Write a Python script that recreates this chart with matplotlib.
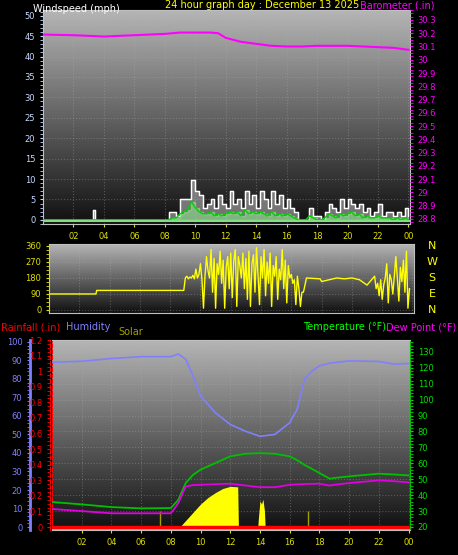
import numpy as np
import matplotlib.pyplot as plt
from matplotlib.ticker import MultipleLocator

# ---- data ----
hours = [0, 2, 4, 6, 8, 8.5, 9, 9.5, 10, 11, 12, 13, 14, 15, 16, 16.5, 17, 17.5, 18, 18.7, 19, 20, 22, 23, 24]
humidity = [89, 89.5, 91, 92, 92, 93.4, 90.6, 81.6, 70.8, 61.7, 55.4, 51.8, 49, 50, 56.3, 63.5, 79.8, 84.3, 87, 88.5, 88.8, 89.7, 89.4, 88, 88.3]
temperature = [35.7, 34.2, 32.5, 31.7, 31.9, 37, 47.6, 52.8, 56, 60.2, 64.4, 66, 66.4, 66, 64.4, 62, 59, 56.5, 53.9, 50.3, 50.8, 51.8, 53.5, 53, 52.4]
dewpoint = [31.3, 30, 28.6, 28.6, 28.6, 35, 45.5, 46.3, 46.5, 46.9, 47.2, 46.1, 45, 45, 46.5, 46.8, 47, 47.1, 47.2, 46, 46.5, 47.6, 49.3, 48.8, 48]

baro_hours = [0, 2, 4, 6, 8, 9, 10, 11, 11.5, 12, 13, 14, 15, 16, 17, 18, 20, 22, 23, 24]
barometer = [30.19, 30.185, 30.175, 30.185, 30.195, 30.205, 30.205, 30.205, 30.2, 30.165, 30.135, 30.12, 30.105, 30.1, 30.1, 30.105, 30.105, 30.095, 30.09, 30.075]

solar_hours = [0, 8.6, 9, 9.5, 10, 10.5, 11, 11.5, 12, 12.5, 12.55, 13.85, 13.9, 14.0, 14.1, 14.2, 14.3, 14.35, 24]
solar = [0, 0, 40, 90, 140, 180, 210, 235, 248, 245, 0, 0, 60, 160, 140, 170, 100, 0, 0]
solar_blips = [7.3, 17.2]

wind_hours = [0, 3.2, 3.3, 3.4] + list(np.arange(8.0, 24.0, 0.25)) + [24]
gust = [0, 0, 2.5, 0,
        0, 2, 2, 1, 5, 5, 5, 9.8, 7, 6, 3, 4, 5, 3, 6, 4,
        3, 7, 4, 5, 3, 7, 4, 6, 3, 7, 5, 3, 7, 4, 6, 3,
        5, 3, 2, 0, 0, 0, 3, 1, 1, 0, 2, 4, 3, 2, 5, 3,
        5, 4, 3, 4, 2, 3, 1, 2, 4, 1, 2, 2, 1, 2, 1, 3, 1]
avg = [0, 0, 0, 0,
       0, 0, 0.5, 0.5, 1.5, 2, 2.5, 4.5, 3, 2, 1.5, 1.5, 2, 1, 1.5, 1,
       1.5, 2, 1.5, 2, 1, 2.5, 1.5, 2, 1.5, 2, 1.5, 1, 2, 1, 1.5, 1,
       1.5, 1, 0.5, 0, 0, 0, 1, 0.5, 0, 0, 0.5, 1.5, 1, 0.5, 1.5, 1,
       1.5, 2, 1, 1.5, 0.5, 1, 0.5, 0.5, 1, 0.5, 0.5, 0.5, 0, 0.5, 0, 0.5, 0]

dir_hours = [0, 3.1, 3.15, 8.9, 9.0] + list(np.arange(9.1, 16.9, 0.1)) + [17.0, 17.9, 18.0, 19, 19.5, 20, 20.5, 21, 21.5] + list(np.arange(21.6, 24.0, 0.1))
direction = [90, 90, 110, 110, 180,
             190, 175, 185, 180, 195, 175, 230, 180, 200, 260, 170, 10, 190, 300, 220,
             180, 340, 100, 290, 10, 260, 200, 330, 150, 280, 10, 240, 300, 120, 320,
             70, 280, 340, 20, 300, 250, 180, 320, 120, 290, 60, 330, 20, 260, 310,
             100, 350, 200, 30, 300, 180, 340, 80, 270, 150, 320, 20, 250, 190, 300,
             60, 230, 170, 340, 120, 280, 40, 250, 180, 200, 150, 170, 30, 190, 120,
             20,
             100, 100, 180, 175, 160, 180, 175, 180, 170,
             140, 190, 120, 150, 80, 170, 60, 140, 180, 260, 40, 200, 170, 90, 190,
             300, 180, 50, 240, 160, 280, 100, 330, 10, 120]

BG = "black"


def gradient(ax):
    g = np.linspace(1, 0, 256).reshape(-1, 1)
    ax.imshow(g, aspect="auto", cmap="gray", vmin=-0.1, vmax=1.45,
              extent=(0, 1, 0, 1), transform=ax.transAxes, zorder=0)


def xaxis(ax):
    ax.set_xlim(0, 24.1)
    ax.set_xticks(range(2, 25, 2))
    ax.set_xticklabels([f"{h % 24:02d}" for h in range(2, 25, 2)])
    ax.xaxis.set_minor_locator(MultipleLocator(1))
    ax.tick_params(axis="x", colors="#e0e000", labelsize=6, length=2)
    ax.grid(True, color="#b0b0b0", alpha=0.35, linestyle=":", linewidth=0.8)
    for s in ax.spines.values():
        s.set_color("#c0c0c0")


fig = plt.figure(figsize=(4.58, 5.55), dpi=100, facecolor=BG)

# ---- wind / barometer ----
ax1 = fig.add_axes([43 / 458, 1 - 224 / 555, 367 / 458, 214 / 555])
gradient(ax1)
xaxis(ax1)
ax1.set_ylim(-1, 51.4)
ax1.set_yticks(range(0, 51, 5))
ax1.yaxis.set_minor_locator(MultipleLocator(1))
ax1.tick_params(axis="y", colors="#c8d8ff", labelsize=6, length=2, which="both")
ax1.fill_between(wind_hours, gust, step="post", color="#d0d0d0", alpha=0.5, zorder=2)
ax1.step(wind_hours, gust, where="post", color="white", lw=1, zorder=3)
ax1.fill_between(wind_hours, avg, step="post", color="#90e090", alpha=0.6, zorder=3)
ax1.plot(wind_hours, avg, color="#00d000", lw=1, zorder=4)
ax1.axhline(-0.3, color="#80e080", lw=1.5, zorder=4)
axb = ax1.twinx()
axb.set_xlim(0, 24.1)
axb.set_ylim(28.762, 30.375)
baro_ticks = np.round(np.arange(28.8, 30.31, 0.1), 1)
axb.set_yticks(baro_ticks)
axb.set_yticklabels([f"{v:g}" for v in baro_ticks])
axb.yaxis.set_minor_locator(MultipleLocator(0.025))
axb.tick_params(axis="y", colors="#ff00ff", labelsize=6, length=2, which="both")
axb.plot(baro_hours, barometer, color="#ff00ff", lw=1.5)
for s in axb.spines.values():
    s.set_visible(False)

fig.text(33 / 458, 1 - 9 / 555, "Windspeed (mph)", color="white", fontsize=7, va="center")
fig.text(262 / 458, 1 - 5 / 555, "24 hour graph day : December 13 2025", color="#ffff00",
         fontsize=7, ha="center", va="center")
fig.text(434 / 458, 1 - 5 / 555, "Barometer (.in)", color="#ff00ff", fontsize=7, ha="right", va="center")

# ---- wind direction ----
ax2 = fig.add_axes([49 / 458, 1 - 313 / 555, 365 / 458, 69 / 555])
gradient(ax2)
xaxis(ax2)
ax2.set_xticklabels([])
ax2.tick_params(axis="x", length=0)
ax2.set_ylim(-17, 371)
ax2.set_yticks([0, 90, 180, 270, 360])
ax2.yaxis.set_minor_locator(MultipleLocator(22.5))
ax2.tick_params(axis="y", colors="#e0e000", labelsize=6, length=2, which="both")
ax2.plot(dir_hours[:len(direction)], direction, color="#ffff00", lw=1)
for i, c in enumerate("NWSEN"):
    fig.text(432 / 458, 1 - (246 + i * 16) / 555, c, color="#ffff00", fontsize=8, ha="center", va="center")

# ---- temperature / humidity / rain / solar ----
rect = [52 / 458, 1 - 530 / 555, 358 / 458, 190 / 555]
ax3 = fig.add_axes(rect)
gradient(ax3)
xaxis(ax3)
ax3.set_ylim(18.1, 137.5)
ax3.spines["right"].set_color("#00c000")
ax3.spines["left"].set_color("red")
ax3.spines["left"].set_linestyle("--")

axs = ax3.twinx()
axs.set_ylim(-18, 1140)
axs.axis("off")
axs.fill_between(solar_hours, solar, color="#ffff00", lw=0, zorder=1)
axs.vlines(solar_blips, 0, 100, color="#a0a000", lw=1)
axs.axhline(-10, color="#ffff00", lw=1.2)

axr = ax3.twinx()
axr.set_ylim(-0.019, 1.2)
axr.axis("off")
axr.axhline(0, color="red", lw=2.5)

axh = ax3.twinx()
axh.set_ylim(-1.6, 101)
axh.axis("off")
axh.plot(hours, humidity, color="#8080ff", lw=1.2)

ax3t = ax3.twinx()
ax3t.set_ylim(18.1, 137.5)
ax3t.axis("off")
ax3t.plot(hours, temperature, color="#00c000", lw=1.3)
ax3t.plot(hours, dewpoint, color="#e000e0", lw=1.3)

# twinx moves the host ticks left, so put temperature ticks right afterwards
ax3.yaxis.tick_right()
ax3.set_yticks(range(20, 131, 10))
ax3.yaxis.set_minor_locator(MultipleLocator(2))
ax3.tick_params(axis="y", colors="#00e000", labelsize=6, length=2, which="both")

# left axes: humidity and rainfall scales
axhl = fig.add_axes([30 / 458, rect[1], 0.001, rect[3]], facecolor="none")
axhl.set_ylim(-1.6, 101)
axhl.set_xticks([])
axhl.set_yticks(range(0, 101, 10))
axhl.yaxis.set_minor_locator(MultipleLocator(2))
axhl.tick_params(axis="y", colors="#8080ff", labelsize=6, length=2, which="both")
for k, s in axhl.spines.items():
    s.set_visible(k == "left")
axhl.spines["left"].set_color("#8080ff")
axhl.spines["left"].set_linewidth(2)

axrl = fig.add_axes([50 / 458, rect[1], 0.001, rect[3]], facecolor="none")
axrl.set_ylim(-0.019, 1.2)
axrl.set_xticks([])
rain_ticks = np.round(np.arange(0, 1.21, 0.1), 1)
axrl.set_yticks(rain_ticks)
axrl.set_yticklabels([f"{v:g}" for v in rain_ticks])
axrl.yaxis.set_minor_locator(MultipleLocator(0.025))
axrl.tick_params(axis="y", colors="red", labelsize=6, length=2, which="both")
for k, s in axrl.spines.items():
    s.set_visible(k == "left")
axrl.spines["left"].set_color("red")
axrl.spines["left"].set_linestyle("--")

fig.text(1 / 458, 1 - 327 / 555, "Rainfall (.in)", color="red", fontsize=7, va="center")
fig.text(66 / 458, 1 - 327 / 555, "Humidity", color="#8080ff", fontsize=7, va="center")
fig.text(118 / 458, 1 - 332 / 555, "Solar", color="#a0a000", fontsize=7, va="center")
fig.text(386 / 458, 1 - 327 / 555, "Temperature (°F)", color="#00ff00", fontsize=7, ha="right", va="center")
fig.text(456 / 458, 1 - 327 / 555, "Dew Point (°F)", color="#ff00ff", fontsize=7, ha="right", va="center")

plt.savefig("out.png", dpi=100, facecolor=BG)
